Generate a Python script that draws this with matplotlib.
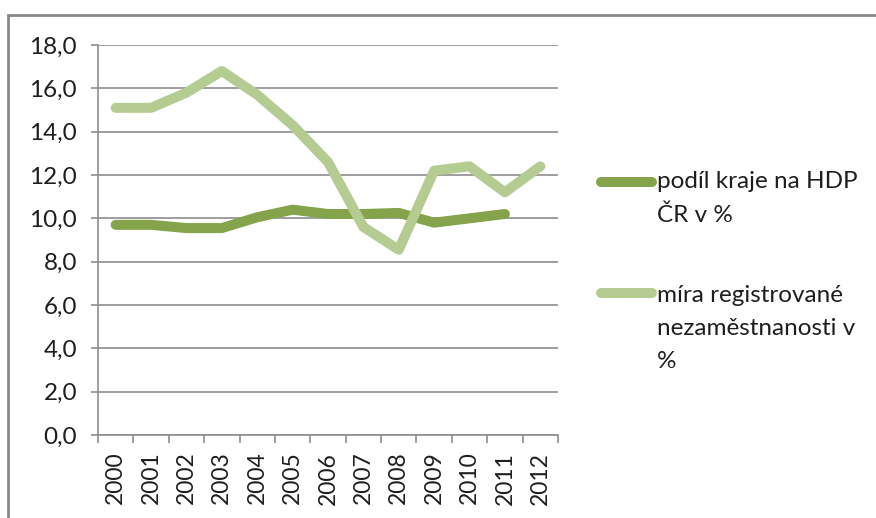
import matplotlib
matplotlib.use("Agg")
import matplotlib.pyplot as plt
from matplotlib.lines import Line2D
from matplotlib.patches import Rectangle
from matplotlib.ticker import FixedLocator

years = ["2000", "2001", "2002", "2003", "2004", "2005", "2006",
         "2007", "2008", "2009", "2010", "2011", "2012"]
hdp_share = [9.7, 9.7, 9.55, 9.55, 10.05, 10.4, 10.2, 10.2, 10.25, 9.8, 10.0, 10.2]
unemployment = [15.1, 15.1, 15.8, 16.8, 15.7, 14.3, 12.6, 9.6, 8.55, 12.2, 12.4, 11.2, 12.4]
labels = ["podíl kraje na HDP\nČR v %", "míra registrované\nnezaměstnanosti v\n%"]
yticks = [0, 2, 4, 6, 8, 10, 12, 14, 16, 18]

c_dark = "#84a34a"
c_light = "#b4cc91"
grid_c = "#8e8e8e"

plt.rcParams['font.family'] = ['Lato', 'DejaVu Sans']

W, H = 876, 518
fig = plt.figure(figsize=(W / 100, H / 100), dpi=100)

# outer chart frame
fig.add_artist(Rectangle((8 / W, -0.1), 2.0, (H - 15) / H + 0.1,
                         transform=fig.transFigure, fill=False,
                         edgecolor="#888888", linewidth=2.0))

ax = fig.add_axes([98 / W, 1 - 435 / H, (558 - 98) / W, (435 - 45) / H])
x = list(range(len(years)))
ax.plot(x[:len(hdp_share)], hdp_share, color=c_dark, lw=7.2,
        solid_capstyle="round", solid_joinstyle="round", zorder=3)
ax.plot(x, unemployment, color=c_light, lw=7.2,
        solid_capstyle="round", solid_joinstyle="round", zorder=3)

ax.set_xlim(-0.5, len(years) - 0.5)
ax.set_ylim(0, 18)
ax.set_yticks(yticks)
ax.set_yticklabels([f"{v:.1f}".replace(".", ",") for v in yticks])
ax.set_xticks(x)
ax.set_xticklabels(years, rotation=90)
ax.xaxis.set_minor_locator(FixedLocator([i - 0.5 for i in range(len(years) + 1)]))
ax.tick_params(axis="x", which="major", length=0, pad=12, labelsize=16.5, colors="#1e1e1e")
ax.tick_params(axis="x", which="minor", length=6, width=1.2, color=grid_c)
ax.tick_params(axis="y", length=5, width=1.2, color=grid_c, pad=10, labelsize=17.5,
               labelcolor="#1e1e1e")

ax.grid(axis="y", color=grid_c, lw=1.2)
ax.set_axisbelow(True)
for s in ["top", "right"]:
    ax.spines[s].set_visible(False)
for s in ["left", "bottom"]:
    ax.spines[s].set_color(grid_c)
    ax.spines[s].set_linewidth(1.2)

# legend (manual, Excel style)
leg_y = [182, 293]
text_y = [188, 302]
for col, yy, ty, lab in zip([c_dark, c_light], leg_y, text_y, labels):
    fig.add_artist(Line2D([601 / W, 652 / W], [1 - yy / H, 1 - yy / H],
                          transform=fig.transFigure, color=col, lw=7.2,
                          solid_capstyle="round"))
    fig.text(657 / W, 1 - (ty - 17) / H, lab, ha="left", va="top",
             fontsize=17.5, color="#1e1e1e", linespacing=1.72)

fig.savefig("out.png", dpi=100)
